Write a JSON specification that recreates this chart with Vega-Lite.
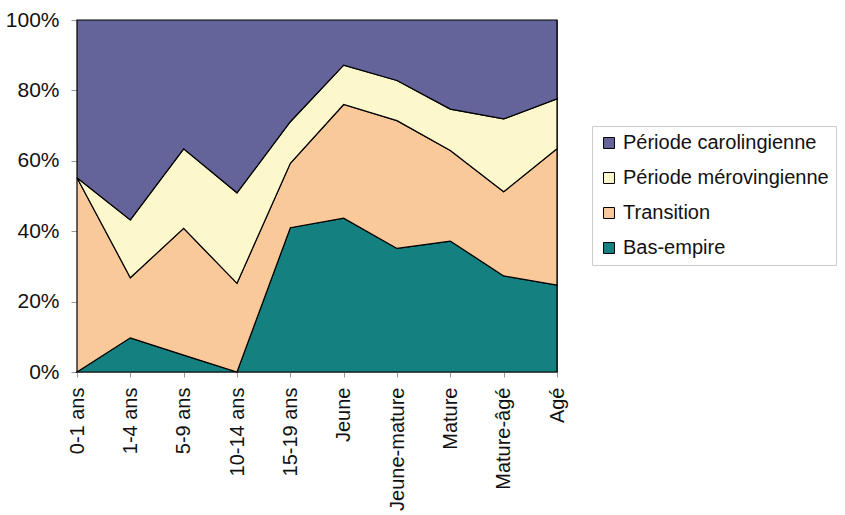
{
  "$schema": "https://vega.github.io/schema/vega-lite/v6.json",
  "autosize": "none",
  "width": 480,
  "height": 352,
  "padding": {"left": 77, "top": 20, "right": 288, "bottom": 143},
  "background": "white",
  "config": {
    "font": "Liberation Sans",
    "view": {"stroke": "#555555", "strokeWidth": 1}
  },
  "data": {
    "values": [
      {"age": "0-1 ans", "periode": "Bas-empire", "rang": 1, "pct": 0},
      {"age": "0-1 ans", "periode": "Transition", "rang": 2, "pct": 55.2},
      {"age": "0-1 ans", "periode": "Période mérovingienne", "rang": 3, "pct": 0},
      {"age": "0-1 ans", "periode": "Période carolingienne", "rang": 4, "pct": 44.8},
      {"age": "1-4 ans", "periode": "Bas-empire", "rang": 1, "pct": 9.7},
      {"age": "1-4 ans", "periode": "Transition", "rang": 2, "pct": 17.1},
      {"age": "1-4 ans", "periode": "Période mérovingienne", "rang": 3, "pct": 16.4},
      {"age": "1-4 ans", "periode": "Période carolingienne", "rang": 4, "pct": 56.8},
      {"age": "5-9 ans", "periode": "Bas-empire", "rang": 1, "pct": 4.8},
      {"age": "5-9 ans", "periode": "Transition", "rang": 2, "pct": 36.0},
      {"age": "5-9 ans", "periode": "Période mérovingienne", "rang": 3, "pct": 22.6},
      {"age": "5-9 ans", "periode": "Période carolingienne", "rang": 4, "pct": 36.6},
      {"age": "10-14 ans", "periode": "Bas-empire", "rang": 1, "pct": 0},
      {"age": "10-14 ans", "periode": "Transition", "rang": 2, "pct": 25.2},
      {"age": "10-14 ans", "periode": "Période mérovingienne", "rang": 3, "pct": 25.7},
      {"age": "10-14 ans", "periode": "Période carolingienne", "rang": 4, "pct": 49.1},
      {"age": "15-19 ans", "periode": "Bas-empire", "rang": 1, "pct": 41.0},
      {"age": "15-19 ans", "periode": "Transition", "rang": 2, "pct": 18.3},
      {"age": "15-19 ans", "periode": "Période mérovingienne", "rang": 3, "pct": 11.8},
      {"age": "15-19 ans", "periode": "Période carolingienne", "rang": 4, "pct": 28.9},
      {"age": "Jeune", "periode": "Bas-empire", "rang": 1, "pct": 43.7},
      {"age": "Jeune", "periode": "Transition", "rang": 2, "pct": 32.3},
      {"age": "Jeune", "periode": "Période mérovingienne", "rang": 3, "pct": 11.2},
      {"age": "Jeune", "periode": "Période carolingienne", "rang": 4, "pct": 12.8},
      {"age": "Jeune-mature", "periode": "Bas-empire", "rang": 1, "pct": 35.1},
      {"age": "Jeune-mature", "periode": "Transition", "rang": 2, "pct": 36.3},
      {"age": "Jeune-mature", "periode": "Période mérovingienne", "rang": 3, "pct": 11.4},
      {"age": "Jeune-mature", "periode": "Période carolingienne", "rang": 4, "pct": 17.2},
      {"age": "Mature", "periode": "Bas-empire", "rang": 1, "pct": 37.2},
      {"age": "Mature", "periode": "Transition", "rang": 2, "pct": 25.7},
      {"age": "Mature", "periode": "Période mérovingienne", "rang": 3, "pct": 11.8},
      {"age": "Mature", "periode": "Période carolingienne", "rang": 4, "pct": 25.3},
      {"age": "Mature-âgé", "periode": "Bas-empire", "rang": 1, "pct": 27.3},
      {"age": "Mature-âgé", "periode": "Transition", "rang": 2, "pct": 23.9},
      {"age": "Mature-âgé", "periode": "Période mérovingienne", "rang": 3, "pct": 20.7},
      {"age": "Mature-âgé", "periode": "Période carolingienne", "rang": 4, "pct": 28.1},
      {"age": "Agé", "periode": "Bas-empire", "rang": 1, "pct": 24.7},
      {"age": "Agé", "periode": "Transition", "rang": 2, "pct": 38.7},
      {"age": "Agé", "periode": "Période mérovingienne", "rang": 3, "pct": 14.2},
      {"age": "Agé", "periode": "Période carolingienne", "rang": 4, "pct": 22.4}
    ]
  },
  "mark": {"type": "area", "stroke": "black", "strokeWidth": 1.2, "opacity": 1, "fillOpacity": 1},
  "encoding": {
    "x": {
      "field": "age",
      "type": "ordinal",
      "sort": ["0-1 ans", "1-4 ans", "5-9 ans", "10-14 ans", "15-19 ans", "Jeune", "Jeune-mature", "Mature", "Mature-âgé", "Agé"],
      "scale": {"type": "point", "padding": 0},
      "axis": {
        "title": null,
        "labelAngle": -90,
        "labelAlign": "right",
        "labelBaseline": "middle",
        "labelFontSize": 20,
        "labelColor": "#111111",
        "labelPadding": 10,
        "labelLimit": 0,
        "tickSize": 5,
        "tickColor": "#999999",
        "domainColor": "#999999",
        "grid": false
      }
    },
    "y": {
      "field": "pct",
      "type": "quantitative",
      "stack": "normalize",
      "scale": {"domain": [0, 1]},
      "axis": {
        "title": null,
        "format": ".0%",
        "values": [0, 0.2, 0.4, 0.6, 0.8, 1],
        "labelFontSize": 21,
        "labelColor": "#111111",
        "labelPadding": 12,
        "tickSize": 6,
        "tickColor": "#999999",
        "domainColor": "#999999",
        "grid": false
      }
    },
    "order": {"field": "rang", "type": "quantitative", "sort": "ascending"},
    "color": {
      "field": "periode",
      "type": "nominal",
      "scale": {
        "domain": ["Période carolingienne", "Période mérovingienne", "Transition", "Bas-empire"],
        "range": ["#64649a", "#fcf8cc", "#f9c999", "#158080"]
      },
      "legend": {
        "title": null,
        "orient": "none",
        "legendX": 515,
        "legendY": 106,
        "labelFontSize": 20,
        "labelLimit": 0,
        "labelColor": "#111111",
        "symbolType": "square",
        "symbolSize": 120,
        "symbolStrokeColor": "black",
        "symbolStrokeWidth": 1,
        "symbolOpacity": 1,
        "labelOffset": 4,
        "rowPadding": 15,
        "padding": 7,
        "strokeColor": "#cccccc",
        "fillColor": "white"
      }
    }
  }
}
